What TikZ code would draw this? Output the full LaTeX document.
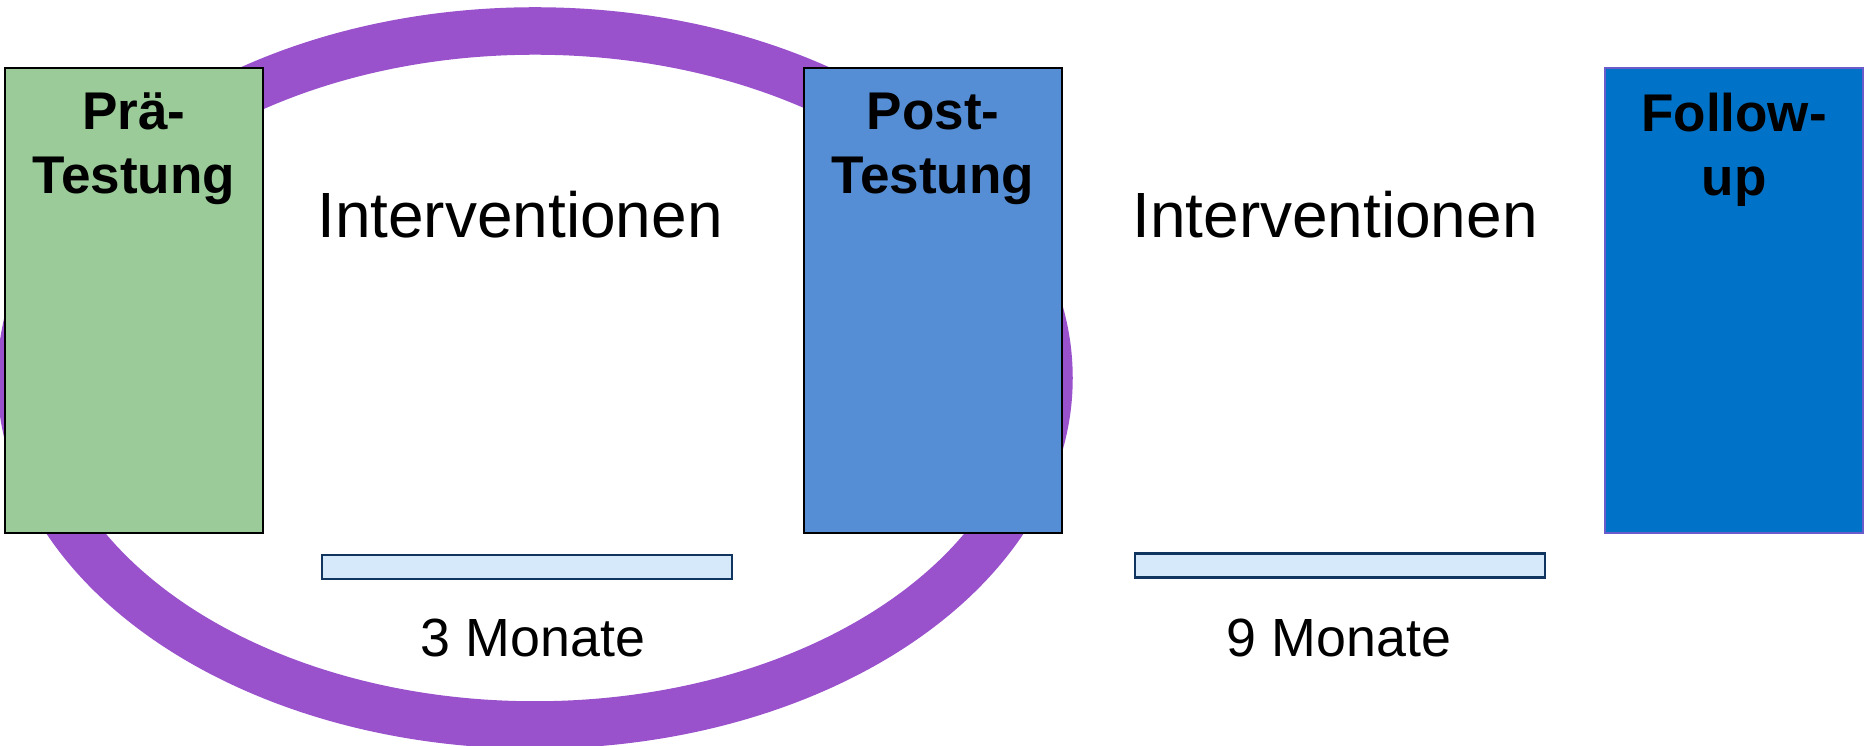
\documentclass[tikz,border=0pt]{standalone}
\usepackage{fontspec}
\setmainfont{Liberation Sans}
\usetikzlibrary{positioning}

\definecolor{ringlila}{HTML}{9952CC}
\definecolor{pregruen}{HTML}{9BCB99}
\definecolor{postblau}{HTML}{558ED5}
\definecolor{followblau}{HTML}{0072C8}
\definecolor{balkenhell}{HTML}{D6E9FB}
\definecolor{balkenrand}{HTML}{10355E}

\tikzset{
  phase/.style={draw=black, line width=0.6pt, minimum width=2.58cm,
    minimum height=4.65cm, inner sep=0pt},
  phasetext/.style={anchor=north, align=center, inner sep=0pt,
    font=\fontsize{15.1}{18.2}\selectfont\bfseries},
  dauer/.style={draw=balkenrand, fill=balkenhell, line width=0.8pt,
    minimum width=4.1cm, minimum height=0.24cm, inner sep=0pt},
  phasenname/.style={anchor=base, inner sep=0pt, font=\fontsize{18.2}{22}\selectfont},
  monate/.style={anchor=base, inner sep=0pt, font=\fontsize{15.3}{18}\selectfont}
}

\begin{document}
\begin{tikzpicture}
	\useasboundingbox (0,0) rectangle (18.64,7.46);
	\clip (0,0) rectangle (18.64,7.46);
	% ring behind the first two tests
	\draw [ringlila, line width=0.475cm] (5.35,3.68) ellipse (5.14 and 3.47);
	% test phases
	\node [phase, fill=pregruen] (pre) at (1.34,4.455) {};
	\node [phase, fill=postblau] (post) at (9.33,4.455) {};
	\node [phase, fill=followblau, draw=ringlila!70!followblau] (follow) at (17.34,4.455) {};
	\node [phasetext, below=0.25cm of pre.north] (pretext) {Prä-\\Testung};
	\node [phasetext, below=0.25cm of post.north] (posttext) {Post-\\Testung};
	\node [phasetext, below=0.25cm of follow.north] (followtext) {Follow-\\up};
	% interventions between the tests
	\node [phasenname] (interv1) at (5.2,5.08) {Interventionen};
	\node [phasenname] (interv2) at (13.35,5.08) {Interventionen};
	% duration bars
	\node [dauer] (balken1) at (5.27,1.79) {};
	\node [dauer] (balken2) at (13.40,1.805) {};
	\node [monate] (dauer1) at (5.33,0.89) {3 Monate};
	\node [monate] (dauer2) at (13.39,0.89) {9 Monate};
\end{tikzpicture}
\end{document}
